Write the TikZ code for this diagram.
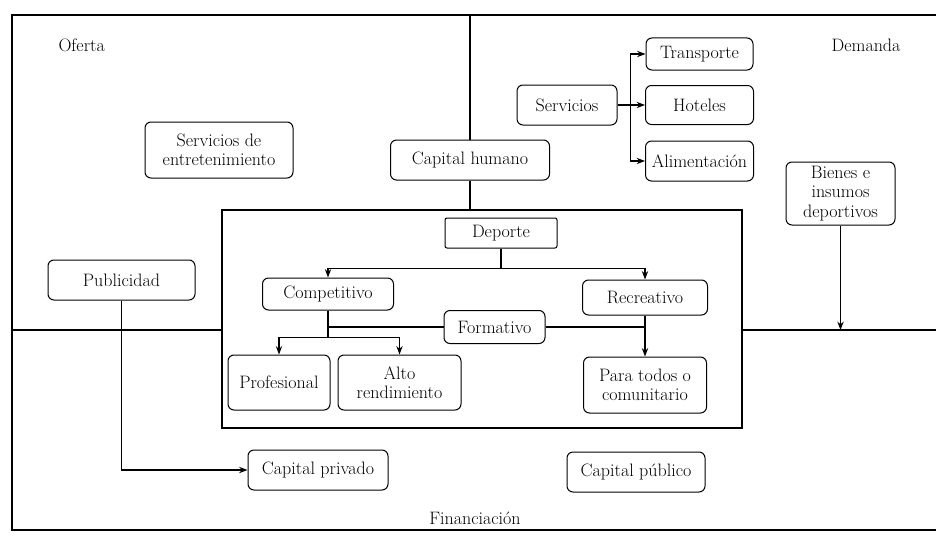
\documentclass[tikz,border=0pt]{standalone}
\usetikzlibrary{arrows.meta}

\begin{document}
\begin{tikzpicture}[x=1pt, y=-1pt, >=Stealth,
   font=\fontsize{18}{19.5}\selectfont,
   box/.style={draw, rounded corners=6pt, line width=1pt, align=center, inner sep=2pt},
   frame/.style={line width=1.4pt},
   link/.style={line width=1.2pt}]
   \useasboundingbox (0,0) rectangle (936,535);
   % marco y divisiones
   \draw[frame] (936,15) -- (12,15) -- (12,530) -- (936,530);
   \node (sport) at (482,319) [draw, frame, minimum width=520, minimum height=218] {};
   \coordinate (divL) at (12,330);
   \coordinate (divR) at (936,330);
   \coordinate (top) at (470,15);
   \node (oferta) at (55,45) [anchor=west] {Oferta};
   \node (demanda) at (866,45) {Demanda};
   \node (financ) at (475,518) {Financiación};
   % nodos
   \node (entret) at (219,150) [box, minimum width=148, minimum height=56] {Servicios de\\entretenimiento};
   \node (chum) at (470,160) [box, minimum width=159, minimum height=40] {Capital humano};
   \node (serv) at (567,105) [box, minimum width=100, minimum height=40] {Servicios};
   \node (trans) at (699.5,54) [box, minimum width=107, minimum height=32] {Transporte};
   \node (hotel) at (699.5,105) [box, minimum width=108, minimum height=39] {Hoteles};
   \node (alim) at (699.5,161) [box, minimum width=108, minimum height=40] {Alimentación};
   \node (bienes) at (840.5,193.5) [box, minimum width=109, minimum height=63] {Bienes e\\insumos\\deportivos};
   \node (dep) at (501,233) [box, rounded corners=2pt, minimum width=112, minimum height=30] {Deporte};
   \node (comp) at (328,294) [box, minimum width=131, minimum height=32] {Competitivo};
   \node (recr) at (645,297.5) [box, minimum width=125, minimum height=35] {Recreativo};
   \node (form) at (494.5,327) [box, minimum width=101, minimum height=33] {Formativo};
   \node (prof) at (279,382.5) [box, minimum width=102, minimum height=55] {Profesional};
   \node (alto) at (399.5,382.5) [box, minimum width=123, minimum height=55] {Alto\\rendimiento};
   \node (para) at (645,385) [box, minimum width=123, minimum height=56] {Para todos o\\comunitario};
   \node (publ) at (121.5,280) [box, minimum width=147, minimum height=40] {Publicidad};
   \node (cpriv) at (318,470) [box, minimum width=140, minimum height=40] {Capital privado};
   \node (cpub) at (636,472) [box, minimum width=138, minimum height=40] {Capital público};
   % lineas de division
   \draw[frame] (top) -- (chum.north);
   \draw[frame] (chum.south) -- (chum.south |- sport.north);
   \draw[frame] (divL) -- (divL -| sport.west);
   \draw[frame] (divR -| sport.east) -- (divR);
   % conectores
   \draw[link] (serv.east)[->] -- ++(13,0) |- (trans.west);
   \draw[link] (serv.east)[->] -- (hotel.west);
   \draw[link] (serv.east)[->] -- ++(13,0) |- (alim.west);
   \draw[link] (bienes.south)[->] -- (bienes.south |- divR);
   \draw[link] (dep.south)[->] -- ++(0,20) -| (comp.north);
   \draw[link] (dep.south)[->] -- ++(0,20) -| (recr.north);
   \draw[link] (comp.south) |- (form.west);
   \draw[link] (form.east) -- (form.east -| recr.south);
   \draw[link] (recr.south)[->] -- (para.north);
   \draw[link] (comp.south)[->] -- ++(0,27) -| (prof.north);
   \draw[link] (comp.south)[->] -- ++(0,27) -| (alto.north);
   \draw[link] (publ.south)[->] |- (cpriv.west);
\end{tikzpicture}
\end{document}
